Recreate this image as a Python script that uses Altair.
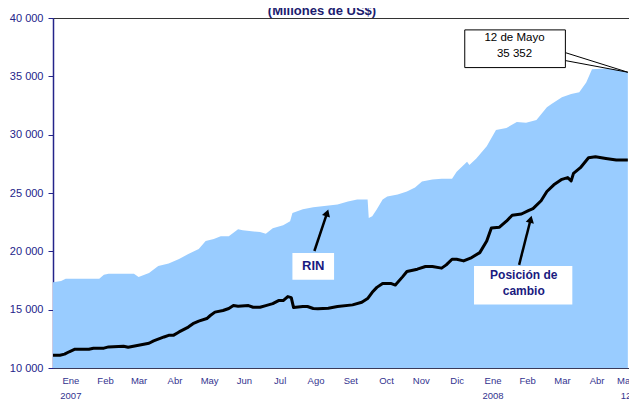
import altair as alt
import pandas as pd

# ---------------- data ----------------
title_text = "(Millones de US$)"
month_names = ["Ene", "Feb", "Mar", "Abr", "May", "Jun", "Jul", "Ago", "Set", "Oct", "Nov", "Dic"]
label_dates = ["2007-01-16", "2007-02-15", "2007-03-16", "2007-04-16", "2007-05-16", "2007-06-15",
               "2007-07-16", "2007-08-16", "2007-09-15", "2007-10-16", "2007-11-15", "2007-12-16",
               "2008-01-16", "2008-02-15", "2008-03-16", "2008-04-15", "2008-05-10"]
last_day_label = "12"
y_ticks = [10000, 15000, 20000, 25000, 30000, 35000, 40000]

rin_dates = ["2007-01-01", "2007-01-08", "2007-01-12", "2007-02-10", "2007-02-14", "2007-02-18",
             "2007-03-12", "2007-03-16", "2007-03-25", "2007-04-02", "2007-04-11", "2007-04-20",
             "2007-04-28", "2007-05-07", "2007-05-13", "2007-05-20", "2007-05-26", "2007-06-02",
             "2007-06-10", "2007-06-14", "2007-06-29", "2007-07-04", "2007-07-10", "2007-07-19",
             "2007-07-25", "2007-07-27", "2007-08-05", "2007-08-14", "2007-09-04", "2007-09-13",
             "2007-09-21", "2007-09-30", "2007-10-01", "2007-10-04", "2007-10-08", "2007-10-13",
             "2007-10-17", "2007-10-26", "2007-11-03", "2007-11-10", "2007-11-16", "2007-11-25",
             "2007-12-03", "2007-12-12", "2007-12-16", "2007-12-25", "2007-12-27", "2008-01-02",
             "2008-01-11", "2008-01-19", "2008-01-28", "2008-02-06", "2008-02-14", "2008-02-23",
             "2008-03-03", "2008-03-07", "2008-03-16", "2008-03-24", "2008-03-31", "2008-04-06",
             "2008-04-11", "2008-04-23", "2008-05-02", "2008-05-10", "2008-05-12"]
rin_values = [17350, 17450, 17650, 17650, 18000, 18070,
              18070, 17800, 18150, 18750, 18950, 19350,
              19770, 20200, 20880, 21050, 21300, 21300,
              21900, 21800, 21650, 21500, 21980, 22240,
              22580, 23290, 23600, 23770, 24020, 24280,
              24450, 24450, 22860, 23000, 23600, 24450,
              24700, 24870, 25130, 25470, 25980, 26150,
              26230, 26230, 26830, 27680, 27400, 27960,
              29000, 30400, 30570, 31080, 31020, 31250,
              32350, 32630, 33200, 33480, 33630, 34480,
              35610, 35670, 35560, 35390, 35352]

pos_dates = ["2007-01-01", "2007-01-07", "2007-01-11", "2007-01-15", "2007-01-20", "2007-02-01",
             "2007-02-05", "2007-02-14", "2007-02-18", "2007-03-03", "2007-03-07", "2007-03-16",
             "2007-03-25", "2007-03-29", "2007-04-07", "2007-04-11", "2007-04-15", "2007-04-20",
             "2007-04-28", "2007-05-02", "2007-05-07", "2007-05-14", "2007-05-17", "2007-05-21",
             "2007-05-28", "2007-06-02", "2007-06-06", "2007-06-10", "2007-06-19", "2007-06-23",
             "2007-06-29", "2007-07-04", "2007-07-10", "2007-07-15", "2007-07-19", "2007-07-23",
             "2007-07-26", "2007-07-28", "2007-08-05", "2007-08-09", "2007-08-14", "2007-08-18",
             "2007-08-27", "2007-09-04", "2007-09-17", "2007-09-25", "2007-09-30", "2007-10-04",
             "2007-10-08", "2007-10-13", "2007-10-20", "2007-10-24", "2007-10-30", "2007-11-03",
             "2007-11-12", "2007-11-19", "2007-11-25", "2007-12-03", "2007-12-07", "2007-12-12",
             "2007-12-16", "2007-12-22", "2007-12-29", "2008-01-05", "2008-01-11", "2008-01-15",
             "2008-01-22", "2008-01-28", "2008-02-02", "2008-02-10", "2008-02-16", "2008-02-20",
             "2008-02-27", "2008-03-03", "2008-03-09", "2008-03-16", "2008-03-21", "2008-03-24",
             "2008-03-26", "2008-04-01", "2008-04-08", "2008-04-14", "2008-04-23", "2008-05-02",
             "2008-05-12"]
pos_values = [11100, 11100, 11190, 11390, 11610, 11610,
              11700, 11700, 11810, 11870, 11780, 11955,
              12120, 12320, 12660, 12800, 12800, 13090,
              13510, 13800, 14020, 14240, 14500, 14790,
              14930, 15100, 15350, 15300, 15350, 15210,
              15210, 15350, 15520, 15780, 15780, 16120,
              16030, 15180, 15270, 15270, 15100, 15070,
              15130, 15270, 15410, 15640, 15950, 16490,
              16910, 17250, 17250, 17110, 17790, 18270,
              18470, 18700, 18700, 18560, 18840, 19320,
              19320, 19180, 19470, 19890, 20880, 22010,
              22070, 22580, 23090, 23200, 23490, 23660,
              24340, 25130, 25700, 26170, 26320, 26040,
              26680, 27170, 28020, 28100, 27960, 27820,
              27820]

# annotation placements (in data units)
label_boxes = pd.DataFrame({
    "d1": ["2007-07-27", "2007-12-31"], "d2": ["2007-09-01", "2008-03-25"],
    "v1": [17560, 15440], "v2": [19860, 18750]})
callout_box = pd.DataFrame({"d1": ["2007-12-23"], "d2": ["2008-03-19"], "v1": [35750], "v2": [38980]})
label_texts = pd.DataFrame({
    "d": ["2007-08-14", "2008-02-12", "2008-02-12"],
    "v": [18750, 17990, 16630],
    "t": ["RIN", "Posición de", "cambio"],
    "s": [13, 12, 12]})
callout_texts = pd.DataFrame({"d": ["2008-02-04", "2008-02-04"], "v": [38300, 36940],
                              "t": ["12 de Mayo", "35 352"]})
arrows = pd.DataFrame({"d1": ["2007-08-15", "2008-02-08"], "d2": ["2007-08-26", "2008-02-18"],
                       "v1": [20030, 18840], "v2": [23300, 22750],
                       "hd": ["2007-08-26", "2008-02-18"], "hv": [23300, 22750], "ang": [18, 14]})
pointer = pd.DataFrame({"d1": ["2008-03-19", "2008-03-19"], "d2": ["2008-05-12", "2008-05-12"],
                        "v1": [37030, 36350], "v2": [35352, 35352]})


def ms(d):
    return int(pd.Timestamp(d).value // 10**6)


NAVY = "#24248A"
FONT = "Liberation Sans"

second_line = ("utcmonth(datum.value)==0 ? ('' + utcyear(datum.value)) : "
               "((utcyear(datum.value)==2008 && utcmonth(datum.value)==4) ? '%s' : '')" % last_day_label)
month_arr = "[" + ",".join("'%s'" % m for m in month_names) + "]"
x_axis = alt.Axis(values=[ms(d) for d in label_dates], title=None, ticks=False, grid=False,
                  labelExpr="[%s[utcmonth(datum.value)], %s]" % (month_arr, second_line),
                  labelFont=FONT, labelFontSize=9.5, labelColor="#33338F", labelPadding=7,
                  labelLineHeight=15, domainColor="#3A3A5A", labelFlush=False, labelOverlap=False,
                  labelBound=False)
x_scale = alt.Scale(type="utc", domain=[ms("2007-01-01"), ms("2008-05-13")])
y_axis = alt.Axis(values=y_ticks, title=None, grid=False,
                  labelExpr="replace(format(datum.value, ','), ',', ' ')",
                  labelFont=FONT, labelFontSize=11, labelColor=NAVY, tickColor=NAVY,
                  domainColor=NAVY, domainWidth=1.5, tickSize=5, labelPadding=5)
y_scale = alt.Scale(domain=[10000, 40000], nice=False, zero=False)


def X(f):
    return alt.X(f, type="temporal", scale=x_scale, axis=x_axis)


def Y(f):
    return alt.Y(f, type="quantitative", scale=y_scale, axis=y_axis)


rin_df = pd.DataFrame({"d": rin_dates, "v": rin_values})
pos_df = pd.DataFrame({"d": pos_dates, "v": pos_values})

area = alt.Chart(rin_df).mark_area(color="#99CCFF", clip=True, interpolate="linear").encode(
    x=X("d"), y=Y("v"))
line = alt.Chart(pos_df).mark_line(color="black", strokeWidth=3, strokeJoin="round").encode(
    x=X("d"), y=Y("v"))

boxes = alt.Chart(label_boxes).mark_rect(fill="white").encode(
    x=X("d1"), x2="d2", y=Y("v1"), y2="v2")
cbox = alt.Chart(callout_box).mark_rect(fill="white", stroke="black", strokeWidth=1).encode(
    x=X("d1"), x2="d2", y=Y("v1"), y2="v2")
ptr = alt.Chart(pointer).mark_rule(color="black", strokeWidth=1).encode(
    x=X("d1"), x2="d2", y=Y("v1"), y2="v2")
arrow_lines = alt.Chart(arrows).mark_rule(color="black", strokeWidth=2.5).encode(
    x=X("d1"), x2="d2", y=Y("v1"), y2="v2")
arrow_heads = alt.Chart(arrows).mark_point(shape="triangle-up", filled=True, color="black",
                                           size=70, opacity=1).encode(
    x=X("hd"), y=Y("hv"), angle=alt.Angle("ang:Q", scale=None))
texts = alt.Chart(label_texts).mark_text(font=FONT, fontWeight="bold", color="#1A1A80").encode(
    x=X("d"), y=Y("v"), text="t", size=alt.Size("s:Q", scale=None, legend=None))
ctexts = alt.Chart(callout_texts).mark_text(font=FONT, fontSize=11.5, color="black").encode(
    x=X("d"), y=Y("v"), text="t")

# chart title, partly cut by the top edge as in the reference
title = alt.Chart(pd.DataFrame({"t": [title_text]})).mark_text(
    font=FONT, fontSize=13, fontWeight="bold", color="#1C1C6E", baseline="alphabetic",
    align="center").encode(text="t", x=alt.value(269), y=alt.value(-3))

chart = alt.layer(area, line, boxes, ptr, cbox, arrow_lines, arrow_heads, texts, ctexts, title).properties(
    width=576, height=350,
    autosize=alt.AutoSizeParams(type="none"),
    padding={"left": 45, "top": 10, "right": 0, "bottom": 33},
    background="white",
).configure_view(stroke="#333333", strokeWidth=1)

chart.save("out.html", embed_options={"renderer": "svg", "actions": False})
